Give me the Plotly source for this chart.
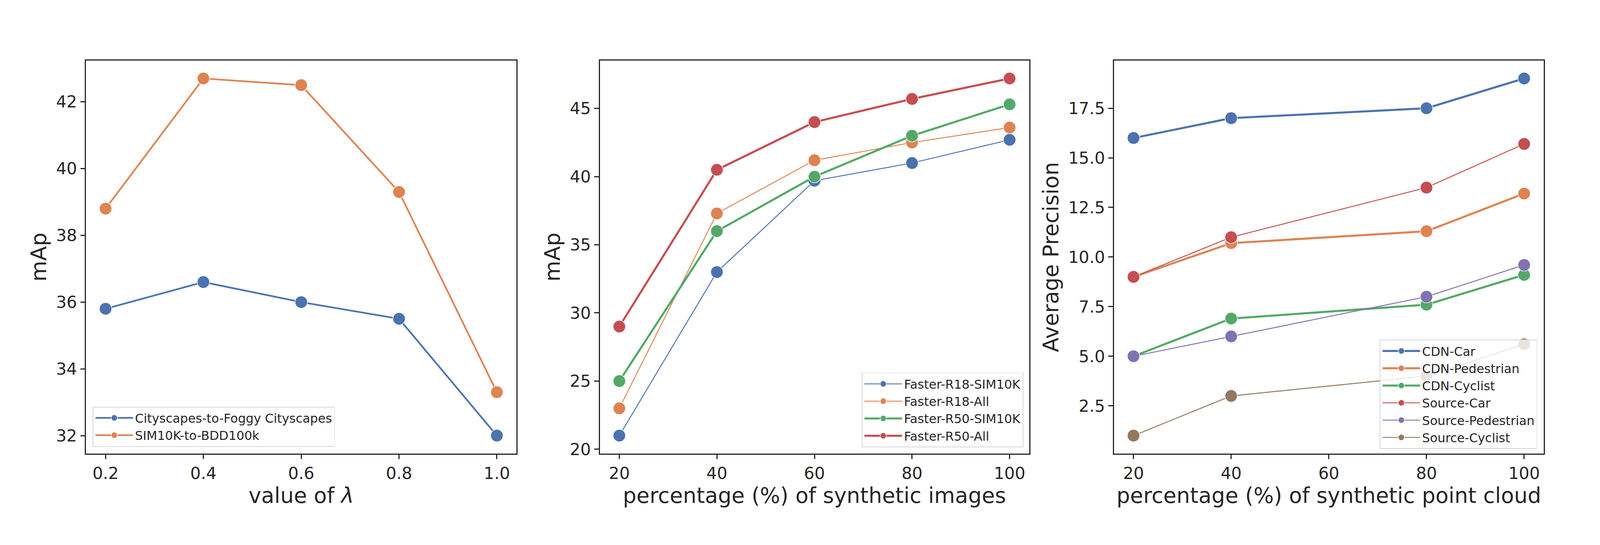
import plotly.graph_objects as go
from plotly.subplots import make_subplots

# seaborn "deep" palette
BLUE, ORANGE, GREEN, RED, PURPLE, BROWN = "#4C72B0", "#DD8452", "#55A868", "#C44E52", "#8172B3", "#937860"
INK = "#262626"

# panel 1: lambda sweep
lam = [0.2, 0.4, 0.6, 0.8, 1.0]
city_foggy = [35.8, 36.6, 36.0, 35.5, 32.0]
sim_bdd = [38.8, 42.7, 42.5, 39.3, 33.3]

# panel 2: synthetic images
pct_img = [20, 40, 60, 80, 100]
r18_sim = [21.0, 33.0, 39.7, 41.0, 42.7]
r18_all = [23.0, 37.3, 41.2, 42.5, 43.6]
r50_sim = [25.0, 36.0, 40.0, 43.0, 45.3]
r50_all = [29.0, 40.5, 44.0, 45.7, 47.2]

# panel 3: synthetic point cloud
pct_pc = [20, 40, 80, 100]
cdn_car = [16.0, 17.0, 17.5, 19.0]
cdn_ped = [9.0, 10.7, 11.3, 13.2]
cdn_cyc = [5.0, 6.9, 7.6, 9.1]
src_car = [9.0, 11.0, 13.5, 15.7]
src_ped = [5.0, 6.0, 8.0, 9.6]
src_cyc = [1.0, 3.0, 4.0, 5.6]

# the page seems to be photographed with a ~1.04 zoom, so work in css px
K = 4260 / 4096
W, H = 4080, 1325
def px(v):
    return v / K
def fx(ref_x):
    return (ref_x / K - 8) / W
def fy(ref_y):
    return 1 - (ref_y / K - 8) / H

fig = make_subplots(rows=1, cols=3)


def add_line(x, y, name, color, width, col, legend):
    fig.add_trace(go.Scatter(
        x=x, y=y, name=name, mode="lines+markers",
        line=dict(color=color, width=px(width)),
        marker=dict(size=px(33), color=color, line=dict(color="white", width=px(1.5))),
        legend=legend,
    ), row=1, col=col)


add_line(lam, city_foggy, "Cityscapes-to-Foggy Cityscapes", BLUE, 4.5, 1, "legend")
add_line(lam, sim_bdd, "SIM10K-to-BDD100k", ORANGE, 4.5, 1, "legend")

add_line(pct_img, r18_sim, "Faster-R18-SIM10K", BLUE, 2.5, 2, "legend2")
add_line(pct_img, r18_all, "Faster-R18-All", ORANGE, 2.5, 2, "legend2")
add_line(pct_img, r50_sim, "Faster-R50-SIM10K", GREEN, 5.5, 2, "legend2")
add_line(pct_img, r50_all, "Faster-R50-All", RED, 5.5, 2, "legend2")

add_line(pct_pc, cdn_car, "CDN-Car", BLUE, 5.5, 3, "legend3")
add_line(pct_pc, cdn_ped, "CDN-Pedestrian", ORANGE, 5.5, 3, "legend3")
add_line(pct_pc, cdn_cyc, "CDN-Cyclist", GREEN, 5.5, 3, "legend3")
add_line(pct_pc, src_car, "Source-Car", RED, 2.5, 3, "legend3")
add_line(pct_pc, src_ped, "Source-Pedestrian", PURPLE, 2.5, 3, "legend3")
add_line(pct_pc, src_cyc, "Source-Cyclist", BROWN, 2.5, 3, "legend3")

ydom = [fy(1220), fy(163)]
xdoms = [[fx(229), fx(1375)], [fx(1597), fx(2740)], [fx(2966), fx(4110)]]

axis_common = dict(
    showgrid=False, zeroline=False, showline=True, mirror=True,
    linecolor=INK, linewidth=px(3), ticks="outside", ticklen=px(12), tickwidth=px(3),
    tickcolor=INK, tickfont=dict(size=px(44), color=INK, family="DejaVu Sans"),
    title_font=dict(size=px(57), color=INK, family="DejaVu Sans"),
)

fig.update_xaxes(**axis_common)
fig.update_yaxes(**axis_common)

fig.update_xaxes(row=1, col=1, domain=xdoms[0], range=[0.16, 1.04], tickvals=lam,
                 tickformat=".1f", title_text="value of <i>λ</i>", title_standoff=px(14))
fig.update_xaxes(row=1, col=2, domain=xdoms[1], range=[16, 104], tickvals=[20, 40, 60, 80, 100],
                 title_text="percentage (%) of synthetic images", title_standoff=px(14))
fig.update_xaxes(row=1, col=3, domain=xdoms[2], range=[16, 104], tickvals=[20, 40, 60, 80, 100],
                 title_text="percentage (%) of synthetic point cloud", title_standoff=px(14))

fig.update_yaxes(row=1, col=1, domain=ydom, range=[31.465, 43.235], tickvals=[32, 34, 36, 38, 40, 42],
                 title_text="mAp", title_standoff=px(8))
fig.update_yaxes(row=1, col=2, domain=ydom, range=[19.69, 48.51], tickvals=[20, 25, 30, 35, 40, 45],
                 title_text="mAp", title_standoff=px(8))
fig.update_yaxes(row=1, col=3, domain=ydom, range=[0.1, 19.9], tickvals=[2.5, 5.0, 7.5, 10.0, 12.5, 15.0, 17.5],
                 tickformat=".1f", title_text="Average Precision", title_standoff=px(8))

legend_common = dict(
    bgcolor="rgba(255,255,255,0.8)", bordercolor="#d5d5d5", borderwidth=px(2),
    font=dict(size=px(33), color=INK, family="DejaVu Sans"), itemwidth=px(100),
    yanchor="bottom", itemclick=False,
)

fig.update_layout(
    width=W, height=H,
    margin=dict(l=0, r=0, t=0, b=0),
    paper_bgcolor="white", plot_bgcolor="white",
    font=dict(family="DejaVu Sans", color=INK),
    showlegend=True,
    legend=dict(x=fx(247), y=fy(1202), xanchor="left", **legend_common),
    legend2=dict(x=fx(2725), y=fy(1203), xanchor="right", **legend_common),
    legend3=dict(x=fx(4093), y=fy(1208), xanchor="right", **legend_common),
)

fig.write_html("out.html")
